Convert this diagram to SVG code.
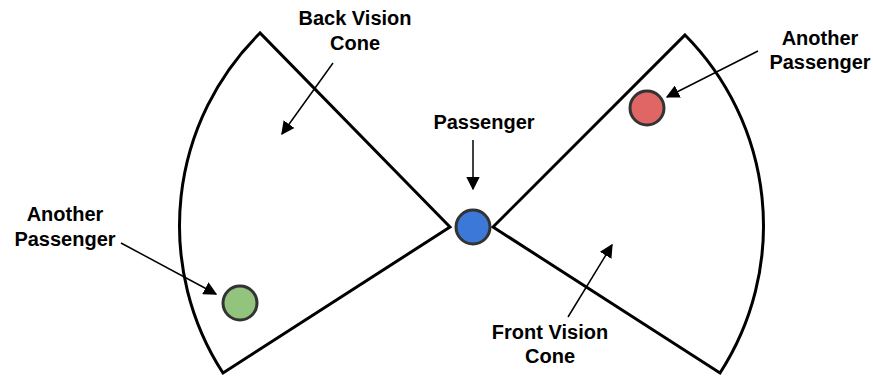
<svg xmlns="http://www.w3.org/2000/svg" width="873" height="376" viewBox="0 0 873 376">
<defs>
<style>
.cone{fill:none;stroke:#000;stroke-width:3;stroke-linejoin:miter}
.lbl{font-family:"Liberation Sans",Arial,sans-serif;font-weight:bold;font-size:20px;fill:#000;text-anchor:middle}
.arr{stroke:#000;stroke-width:1.5;fill:none;marker-end:url(#ah)}
.p{stroke:#333;stroke-width:3}
</style>
<marker id="ah" viewBox="0 0 10 10" refX="9" refY="5" markerWidth="9" markerHeight="9" markerUnits="strokeWidth" orient="auto">
<path d="M0,0 L10,5 L0,10 z" fill="#000"/>
</marker>
</defs>
<rect width="873" height="376" fill="#fff"/>
<g id="back-cone">
<path class="cone" d="M450,227 L260,33 A271,271 0 0 0 223,373 Z"/>
</g>
<g id="front-cone">
<path class="cone" d="M493,227 L685,35 A271,271 0 0 1 720,373 Z"/>
</g>
<g id="passenger">
<circle class="p" cx="473" cy="227" r="17" fill="#3c78d8"/>
</g>
<g id="another-passenger-right">
<circle class="p" cx="647" cy="108" r="17" fill="#e06666"/>
</g>
<g id="another-passenger-left">
<circle class="p" cx="240" cy="303" r="17" fill="#93c47d"/>
</g>
<g id="labels">
<text class="lbl" x="355" y="25">Back Vision</text>
<text class="lbl" x="355" y="50">Cone</text>
<text class="lbl" x="484" y="129">Passenger</text>
<text class="lbl" x="820" y="45">Another</text>
<text class="lbl" x="820" y="69">Passenger</text>
<text class="lbl" x="65" y="221">Another</text>
<text class="lbl" x="65" y="246">Passenger</text>
<text class="lbl" x="550" y="339">Front Vision</text>
<text class="lbl" x="550" y="363">Cone</text>
</g>
<g id="connectors">
<line class="arr" x1="333" y1="63" x2="282" y2="134"/>
<line class="arr" x1="473" y1="140" x2="473" y2="189"/>
<line class="arr" x1="758" y1="51" x2="667" y2="97"/>
<line class="arr" x1="121" y1="243" x2="216" y2="294"/>
<line class="arr" x1="568" y1="317" x2="612" y2="245"/>
</g>
</svg>
